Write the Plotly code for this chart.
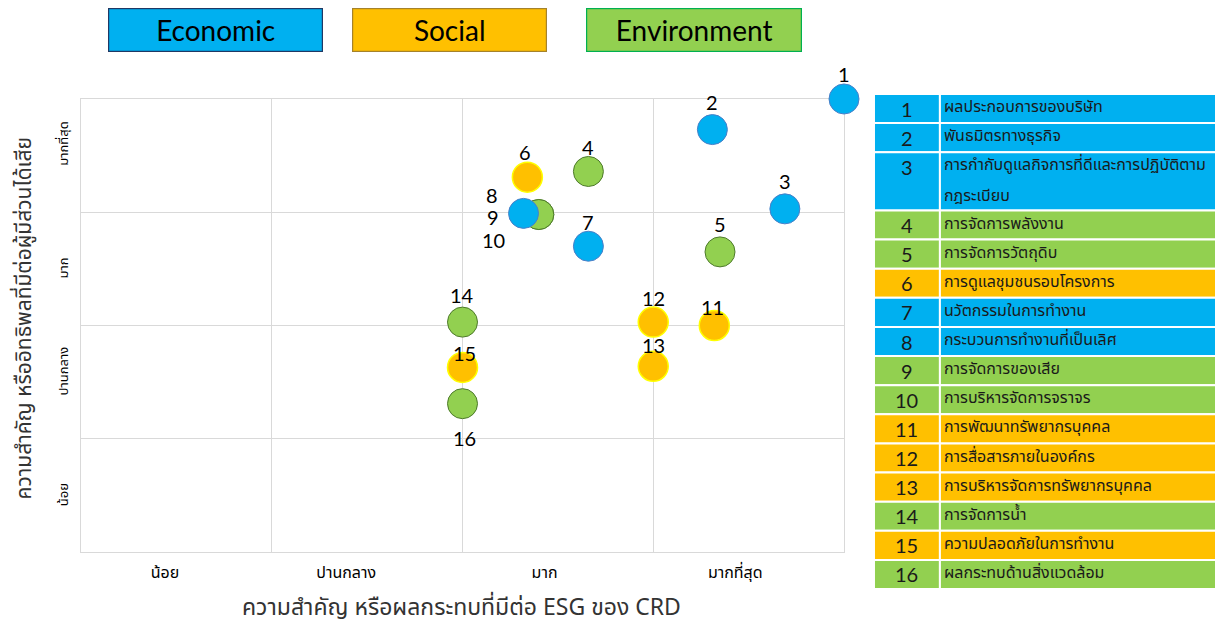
import plotly.graph_objects as go

# ---------------- data ----------------
item_ids = list(range(1, 17))
item_names = [
    "ผลประกอบการของบริษัท",
    "พันธมิตรทางธุรกิจ",
    "การกำกับดูแลกิจการที่ดีและการปฏิบัติตาม<br>กฎระเบียบ",
    "การจัดการพลังงาน",
    "การจัดการวัตถุดิบ",
    "การดูแลชุมชนรอบโครงการ",
    "นวัตกรรมในการทำงาน",
    "กระบวนการทำงานที่เป็นเลิศ",
    "การจัดการของเสีย",
    "การบริหารจัดการจราจร",
    "การพัฒนาทรัพยากรบุคคล",
    "การสื่อสารภายในองค์กร",
    "การบริหารจัดการทรัพยากรบุคคล",
    "การจัดการน้ำ",
    "ความปลอดภัยในการทำงาน",
    "ผลกระทบด้านสิ่งแวดล้อม",
]
item_groups = ["Economic", "Economic", "Economic", "Environment", "Environment", "Social",
               "Economic", "Economic", "Environment", "Environment", "Social", "Social",
               "Social", "Environment", "Social", "Environment"]
impact_esg = [4.00, 3.31, 3.69, 2.66, 3.35, 2.34, 2.66, 2.32, 2.40, 2.40, 3.32, 3.00, 3.00, 2.00, 2.00, 2.00]
influence_stake = [4.00, 3.73, 3.03, 3.36, 2.65, 3.31, 2.70, 2.99, 2.98, 2.98, 2.00, 2.03, 1.64, 2.03, 1.63, 1.31]

level_labels = ["น้อย", "ปานกลาง", "มาก", "มากที่สุด"]
group_order = ["Environment", "Social", "Economic"]
legend_order = ["Economic", "Social", "Environment"]

x_title = "ความสำคัญ หรือผลกระทบที่มีต่อ ESG ของ CRD"
y_title = "ความสำคัญ หรืออิทธิพลที่มีต่อผู้มีส่วนได้เสีย"

# ---------------- styles ----------------
fill = {"Economic": "#00B0F0", "Social": "#FFC000", "Environment": "#92D050"}
edge = {"Economic": "#4A7FC8", "Social": "#FFFF00", "Environment": "#4E7A2C"}
edge_w = {"Economic": 1, "Social": 1.5, "Environment": 1}
legend_border = {"Economic": "#203864", "Social": "#A5822B", "Environment": "#00B050"}
label_shift = {1: (0, 25), 2: (0, 28), 3: (0, 28), 4: (0, 24), 5: (0, 28), 6: (-2, 25),
               7: (0, 24), 8: (-32, 18), 9: (-46, -2), 10: (-45, -25), 11: (-2, 19),
               12: (0, 24), 13: (0, 21), 14: (-1, 27), 15: (2, 14), 16: (2, -34)}
THAI = "Tahoma, 'Noto Sans Thai', 'Noto Sans', sans-serif"
NUM = "Lato, Carlito, Calibri, 'Noto Sans', sans-serif"
grid = "#D9D9D9"

fig = go.Figure()

for g in group_order:
    idx = [i for i, gg in enumerate(item_groups) if gg == g]
    fig.add_trace(go.Scatter(
        x=[impact_esg[i] for i in idx], y=[influence_stake[i] for i in idx],
        mode="markers", name=g, showlegend=False, cliponaxis=False,
        marker=dict(size=30, color=fill[g], line=dict(color=edge[g], width=edge_w[g])),
        hoverinfo="skip"))

annotations = []
for i, n in enumerate(item_ids):
    dx, dy = label_shift[n]
    annotations.append(dict(x=impact_esg[i], y=influence_stake[i], xref="x", yref="y",
                            text=str(n), showarrow=False, xshift=dx, yshift=dy,
                            font=dict(family=NUM, size=20, color="#000000")))

# ---------------- table on secondary axes ----------------
fig.add_trace(go.Scatter(x=[None], y=[None], xaxis="x2", yaxis="y2", showlegend=False,
                         hoverinfo="skip"))
shapes = []
row = 0
for n, name, g in zip(item_ids, item_names, item_groups):
    parts = name.split("<br>")
    y0, y1 = row, row + len(parts)
    shapes.append(dict(type="rect", xref="x2", yref="y2", x0=0, x1=0.19, y0=y0, y1=y1,
                       fillcolor=fill[g], line=dict(color="white", width=2), layer="below"))
    shapes.append(dict(type="rect", xref="x2", yref="y2", x0=0.19, x1=1, y0=y0, y1=y1,
                       fillcolor=fill[g], line=dict(color="white", width=2), layer="below"))
    annotations.append(dict(x=0.095, y=row + 0.5, xref="x2", yref="y2", text=str(n),
                            showarrow=False, font=dict(family=NUM, size=20, color="#1a1a1a")))
    for k, part in enumerate(parts):
        annotations.append(dict(x=0.197, y=row + k + 0.45 + 0.05 * k, xref="x2", yref="y2",
                                text=part, showarrow=False, xanchor="left", yanchor="middle",
                                align="left",
                                font=dict(family=THAI, size=16, color="#1a1a1a")))
    row = y1
total_rows = row

# ---------------- legend boxes ----------------
legend_x = {"Economic": 0.118, "Social": 0.3232, "Environment": 0.5377}
legend_w = {"Economic": 213, "Social": 193, "Environment": 214}
for g in legend_order:
    annotations.append(dict(x=legend_x[g], y=1.129, xref="paper", yref="paper", text=g,
                            xanchor="center", yanchor="middle", align="center",
                            showarrow=False, width=legend_w[g], height=42, bgcolor=fill[g],
                            bordercolor=legend_border[g], borderwidth=1.2, borderpad=0,
                            font=dict(family=NUM, size=28, color="#000000")))

# axis titles
annotations.append(dict(x=0.3342, y=-0.038, xref="paper", yref="paper", text=x_title,
                        showarrow=False, xanchor="center", yanchor="middle",
                        font=dict(family=THAI, size=23, color="#333333")))
annotations.append(dict(x=-0.0498, y=0.547, xref="paper", yref="paper", text=y_title,
                        showarrow=False, textangle=-90, xanchor="center", yanchor="middle",
                        font=dict(family=THAI, size=21, color="#333333")))

fig.update_layout(
    width=1223, height=624, margin=dict(l=73, r=10, t=86, b=43),
    paper_bgcolor="white", plot_bgcolor="white",
    xaxis=dict(domain=[0, 0.6693], range=[0, 4], tickmode="array",
               tickvals=[0.44, 1.39, 2.43, 3.43], ticktext=level_labels,
               showgrid=False, zeroline=False, showline=True, mirror=True, linecolor=grid,
               ticks="", ticklabelstandoff=6,
               tickfont=dict(family=THAI, size=16, color="#000000"),
               layer="below traces",
               minor=dict(tickmode="array", tickvals=[1, 2, 3], showgrid=True,
                          gridcolor=grid, gridwidth=1, ticks="")),
    yaxis=dict(domain=[0.0747, 0.9899], range=[0, 4], tickmode="array",
               tickvals=[0.49, 1.58, 2.49, 3.59], ticktext=level_labels, tickangle=-90,
               showgrid=False, zeroline=False, showline=True, mirror=True, linecolor=grid,
               ticks="", ticklabelstandoff=7,
               tickfont=dict(family=THAI, size=13, color="#000000"),
               layer="below traces",
               minor=dict(tickmode="array", tickvals=[1, 2, 3], showgrid=True,
                          gridcolor=grid, gridwidth=1, ticks="")),
    xaxis2=dict(domain=[0.6956, 1.0], range=[0, 1], visible=False, anchor="y2",
                fixedrange=True),
    yaxis2=dict(domain=[0, 1], range=[total_rows, 0], visible=False, anchor="x2",
                fixedrange=True),
    shapes=shapes, annotations=annotations,
)

fig.write_html("out.html")
